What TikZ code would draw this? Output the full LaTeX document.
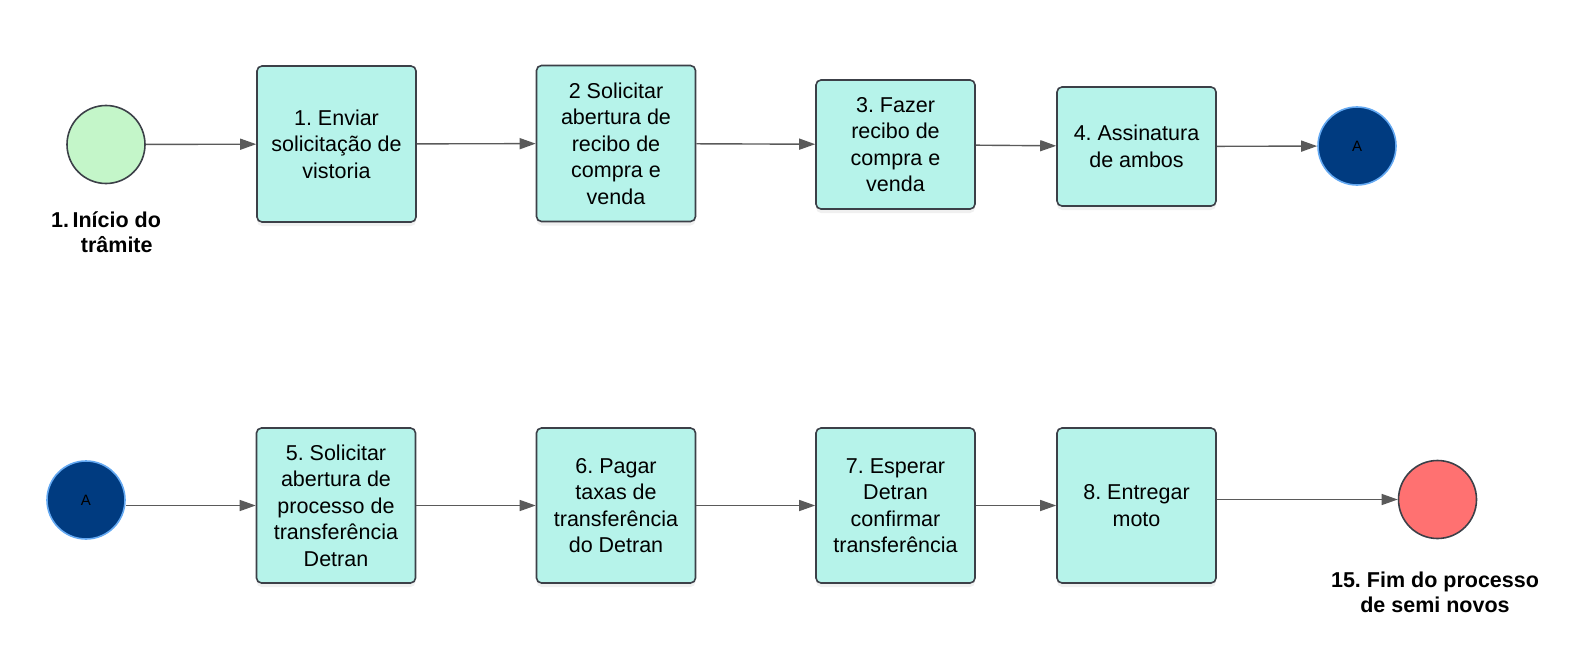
\documentclass[tikz,border=0pt]{standalone}
\usepackage{fontspec}
\setmainfont{Liberation Sans}
\usetikzlibrary{arrows.meta,shadows}
\definecolor{BoxFill}{HTML}{B6F3EA}
\definecolor{Edge}{HTML}{3C4048}
\definecolor{Wire}{HTML}{5A5A5A}
\definecolor{StartGreen}{HTML}{C4F6C9}
\definecolor{LinkBlue}{HTML}{003B80}
\definecolor{LinkRim}{HTML}{64A9F2}
\definecolor{EndRed}{HTML}{FF7171}
\frenchspacing

\begin{document}
\begin{tikzpicture}[x=1pt,y=-1pt,
    stepbox/.style={draw=Edge,line width=1.6pt,fill=BoxFill,rounded corners=5pt,
      minimum width=159pt,align=center,inner sep=0pt,
      font=\fontsize{21.5}{26.5}\selectfont,
      drop shadow={shadow xshift=0pt,shadow yshift=-4pt,opacity=0.12}},
    startev/.style={circle,draw=Edge,line width=1.6pt,fill=StartGreen,minimum size=78pt,inner sep=0pt},
    linkev/.style={circle,draw=LinkRim,line width=1.6pt,fill=LinkBlue,minimum size=78pt,inner sep=0pt,
      font=\fontsize{15}{18}\selectfont},
    endev/.style={circle,draw=Edge,line width=1.6pt,fill=EndRed,minimum size=78pt,inner sep=0pt},
    evlabel/.style={align=center,font=\fontsize{21.5}{25.5}\selectfont\bfseries},
    flow/.style={draw=Wire,line width=1.4pt,-{Triangle[length=16pt,width=11pt]}}]
    \useasboundingbox (0,0) rectangle (1582,666);

    \node[startev] (start) at (106,144.5) {};
    \node[evlabel,anchor=north] (startlbl) at (106,206)
      {1.\,\begin{tabular}[t]{@{}c@{}}Início do\\trâmite\end{tabular}};
    \node[stepbox,minimum height=156pt] (b1) at (336.5,144)
      {1. Enviar\\solicitação de\\vistoria};
    \node[stepbox,minimum height=156pt] (b2) at (616,143.5)
      {2 Solicitar\\abertura de\\recibo de\\compra e\\venda};
    \node[stepbox,minimum height=129pt] (b3) at (895.5,144.5)
      {3. Fazer\\recibo de\\compra e\\venda};
    \node[stepbox,minimum height=119pt] (b4) at (1136.5,146.5)
      {4. Assinatura\\de ambos};
    \node[linkev] (A1) at (1357,146) {A};

    \node[linkev] (A2) at (86,500) {A};
    \node[stepbox,minimum height=155pt] (b5) at (336,505.5)
      {5. Solicitar\\abertura de\\processo de\\transferência\\Detran};
    \node[stepbox,minimum height=155pt] (b6) at (616,505.5)
      {6. Pagar\\taxas de\\transferência\\do Detran};
    \node[stepbox,minimum height=155pt] (b7) at (895.5,505.5)
      {7. Esperar\\Detran\\confirmar\\transferência};
    \node[stepbox,minimum height=155pt] (b8) at (1136.5,505.5)
      {8. Entregar\\moto};
    \node[endev] (end) at (1437.5,499.5) {};
    \node[evlabel] (endlbl) at (1435,592.5) {15. Fim do processo\\de semi novos};

    \draw[flow] (start) -- (b1);
    \draw[flow] (b1) -- (b2);
    \draw[flow] (b2) -- (b3);
    \draw[flow] (b3) -- (b4);
    \draw[flow] (b4) -- (A1);
    \draw[flow] (A2.east |- b5) -- (b5);
    \draw[flow] (b5) -- (b6);
    \draw[flow] (b6) -- (b7);
    \draw[flow] (b7) -- (b8);
    \draw[flow] (b8.east |- end) -- (end);
  \end{tikzpicture}
\end{document}
